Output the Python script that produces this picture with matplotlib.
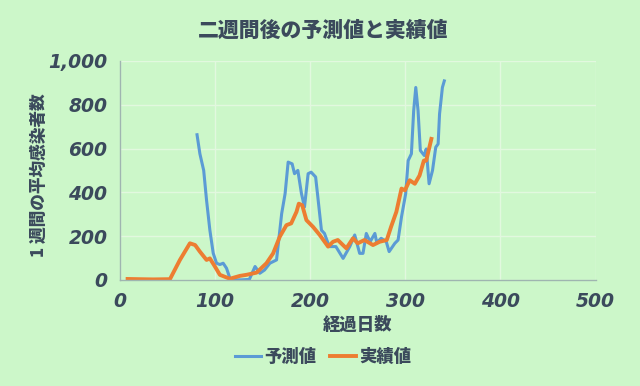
import matplotlib.pyplot as plt
from matplotlib.font_manager import FontProperties

# 予測値 (blue)
pred_x = [81, 84, 88, 91, 94.5, 98, 101.5, 105, 108.5, 112, 115.5, 120, 128, 136, 142, 147,
          152, 157.6, 164.6, 170, 173.6, 176.8, 181, 183.5, 187, 190.8, 194, 197.8, 201,
          205.7, 208, 211.8, 215, 220, 227, 234.6, 241.6, 246.8, 252, 255.5, 259, 263, 268,
          270, 274.6, 280, 283, 289, 292.4, 296, 300.4, 303, 306.4, 308.8, 311, 313.4, 315.8,
          320, 322, 325, 328.6, 332, 334.5, 336, 339, 341]
pred_y = [663, 576, 500, 364, 227, 122, 76, 70, 76, 53, 8, 0, 0, 2, 61, 30,
          45, 76, 91, 303, 394, 538, 530, 485, 500, 394, 333, 485, 492,
          470, 379, 227, 212, 152, 152, 98, 152, 205, 121, 121, 212, 174, 212,
          170, 190, 174, 129, 167, 182, 288, 394, 545, 576, 773, 879, 773, 591,
          568, 598, 439, 500, 606, 621, 758, 879, 909]

# 実績値 (orange)
real_x = [8, 20, 35, 52.5, 63, 73.5, 79, 84, 91, 94.5, 99.8, 105, 115.5, 126, 133, 143.6,
          154, 161, 168, 175, 180, 185.6, 188, 191.6, 196, 203, 210, 218.8, 224, 229,
          238, 245, 250, 257, 266, 273, 280.5, 285, 290.6, 296, 299.6, 304.6, 310, 315,
          319.5, 322, 327.4]
real_y = [4, 3, 2, 3, 91, 167, 159, 129, 91, 98, 61, 23, 5, 18, 23, 33,
          76, 121, 197, 250, 258, 311, 348, 341, 273, 242, 205, 152, 174, 182,
          144, 190, 167, 182, 159, 174, 182, 242, 311, 417, 409, 455, 439, 477,
          545, 545, 644]

x_ticks = [0, 100, 200, 300, 400, 500]
y_ticks = [0, 200, 400, 600, 800, 1000]
y_tick_labels = ['0', '200', '400', '600', '800', '1,000']

bg = '#ccf7c9'
txt = '#3b4a5c'
jp_fam = ['Noto Sans CJK JP', 'DejaVu Sans']
jp = FontProperties(family=jp_fam, weight='heavy')
num = FontProperties(family='DejaVu Sans', weight='heavy', style='italic', size=13.5)

fig = plt.figure(figsize=(6.4, 3.86), dpi=100, facecolor=bg)
ax = fig.add_axes([0.1875, 0.275, 0.743, 0.567], facecolor=bg)

ax.plot(pred_x, pred_y, color='#5b9bd5', lw=2.2, label='予測値')
ax.plot(real_x, real_y, color='#ed7d31', lw=2.8, label='実績値')

ax.set_xlim(0, 500)
ax.set_ylim(0, 1000)
ax.set_xticks(x_ticks)
ax.set_yticks(y_ticks)
ax.set_xticklabels([str(v) for v in x_ticks], fontproperties=num, color=txt)
ax.set_yticklabels(y_tick_labels, fontproperties=num, color=txt)
ax.tick_params(length=0, pad=9)
ax.grid(True, color='#e2f8df', lw=1)
ax.set_axisbelow(True)
for s in ['top', 'right']:
    ax.spines[s].set_visible(False)
for s in ['left', 'bottom']:
    ax.spines[s].set_color('#9fb5b0')
    ax.spines[s].set_linewidth(1)

fig.text(0.505, 0.92, '二週間後の予測値と実績値', fontproperties=jp, fontsize=15,
         color=txt, ha='center', va='center')
ax.set_xlabel('経過日数', fontproperties=jp, fontsize=12.5, color=txt, labelpad=3)
fig.text(0.06, 0.545, '1 週間の平均感染者数', fontproperties=jp, fontsize=12,
         color=txt, ha='center', va='center', rotation=90)

leg = fig.legend(loc='center', bbox_to_anchor=(0.505, 0.075), ncol=2, frameon=False,
                 prop=FontProperties(family=jp_fam, weight='heavy', size=12.5),
                 handlelength=1.5, columnspacing=0.8, handletextpad=0.2)
for t in leg.get_texts():
    t.set_color(txt)

fig.savefig('out.png', facecolor=bg)
